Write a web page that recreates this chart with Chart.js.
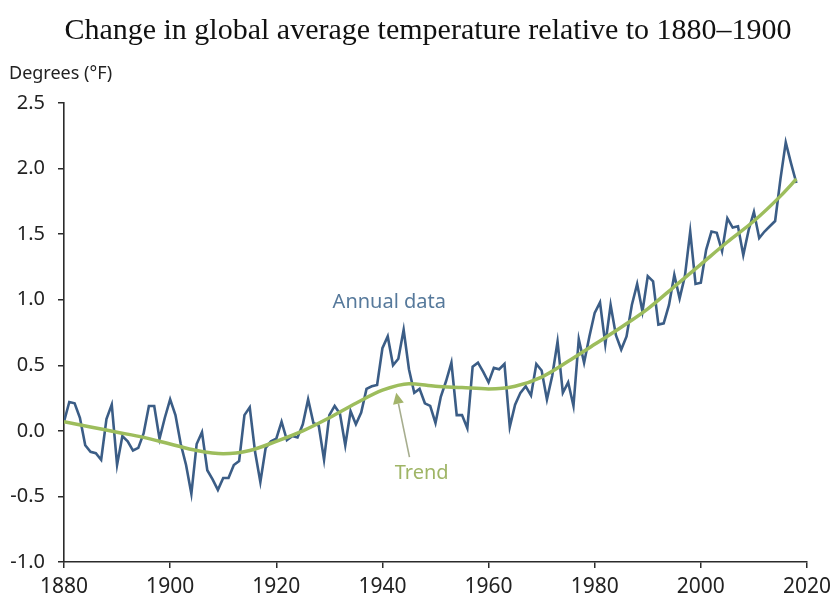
<!DOCTYPE html>
<html>
<head>
<meta charset="utf-8">
<script src="https://cdn.jsdelivr.net/npm/chart.js@4.4.1/dist/chart.umd.min.js"></script>
<style>
  html, body { margin: 0; padding: 0; background: #ffffff; }
  #wrap { width: 837px; height: 598px; }
</style>
</head>
<body>
<div id="wrap"><canvas id="c" width="837" height="598"></canvas></div>
<script>
// ---- Data ----
const startYear = 1880;
const annualValues = [
  0.07, 0.22, 0.21, 0.10, -0.11, -0.16, -0.17, -0.22, 0.09, 0.20,      // 1880-1889
  -0.26, -0.04, -0.08, -0.15, -0.13, -0.02, 0.19, 0.19, -0.06, 0.10,   // 1890-1899
  0.24, 0.12, -0.10, -0.26, -0.48, -0.10, -0.01, -0.30, -0.37, -0.45,  // 1900-1909
  -0.36, -0.36, -0.26, -0.23, 0.12, 0.18, -0.16, -0.39, -0.13, -0.08,  // 1910-1919
  -0.06, 0.07, -0.07, -0.04, -0.05, 0.05, 0.24, 0.06, 0.04, -0.22,     // 1920-1929
  0.12, 0.19, 0.13, -0.11, 0.15, 0.05, 0.14, 0.32, 0.34, 0.35,         // 1930-1939
  0.63, 0.72, 0.50, 0.55, 0.77, 0.47, 0.29, 0.32, 0.21, 0.19,          // 1940-1949
  0.06, 0.26, 0.38, 0.52, 0.12, 0.12, 0.02, 0.49, 0.52, 0.45,          // 1950-1959
  0.37, 0.48, 0.47, 0.51, 0.03, 0.20, 0.29, 0.34, 0.27, 0.51,          // 1960-1969
  0.46, 0.24, 0.42, 0.68, 0.29, 0.37, 0.19, 0.70, 0.52, 0.72,          // 1970-1979
  0.90, 0.98, 0.66, 0.96, 0.73, 0.62, 0.72, 0.96, 1.12, 0.91,          // 1980-1989
  1.18, 1.14, 0.81, 0.82, 0.96, 1.19, 1.01, 1.18, 1.52, 1.12,          // 1990-1999
  1.13, 1.38, 1.52, 1.51, 1.37, 1.62, 1.55, 1.56, 1.34, 1.53,          // 2000-2009
  1.67, 1.47, 1.52, 1.56, 1.60, 1.92, 2.20, 2.04, 1.89                 // 2010-2018
];
const trendYears  = [1880, 1885, 1890, 1895, 1900, 1905, 1910, 1915, 1920, 1925, 1930, 1935, 1940, 1945, 1950,
                     1955, 1960, 1965, 1970, 1975, 1980, 1985, 1990, 1995, 2000, 2005, 2010, 2015, 2018];
const trendValues = [0.07, 0.03, -0.01, -0.05, -0.10, -0.15, -0.175, -0.15, -0.08, 0.00, 0.10, 0.21, 0.31, 0.36, 0.34,
                     0.33, 0.32, 0.34, 0.41, 0.53, 0.66, 0.79, 0.93, 1.10, 1.27, 1.44, 1.60, 1.79, 1.92];
const xTicks = [1880, 1900, 1920, 1940, 1960, 1980, 2000, 2020];
const yTicks = [-1.0, -0.5, 0.0, 0.5, 1.0, 1.5, 2.0, 2.5];

const titleText = 'Change in global average temperature relative to 1880\u20131900';
const yUnitText = 'Degrees (\u00B0F)';
const annualLabel = 'Annual data';
const trendLabel = 'Trend';

// ---- Build library data ----
const annualPoints = annualValues.map((v, i) => ({ x: startYear + i, y: v }));
const trendPoints = trendYears.map((yr, i) => ({ x: yr, y: trendValues[i] }));

const AXIS_COLOR = '#2b2b2b';
const TICK_FONT = "'Noto Sans', 'Liberation Sans', Arial, sans-serif";

const overlay = {
  id: 'overlay',
  afterDraw(chart) {
    const ctx = chart.ctx;
    const xs = chart.scales.x, ys = chart.scales.y;
    ctx.save();
    // Title
    ctx.fillStyle = '#111111';
    ctx.font = "30px 'Liberation Serif', 'Times New Roman', serif";
    ctx.textAlign = 'center';
    ctx.textBaseline = 'alphabetic';
    ctx.fillText(titleText, 428, 39);
    // Unit label
    ctx.fillStyle = '#222222';
    ctx.font = "18px " + TICK_FONT;
    ctx.textAlign = 'left';
    ctx.fillText(yUnitText, 9, 79);
    // Annual data label
    ctx.fillStyle = '#56799b';
    ctx.font = "20px " + TICK_FONT;
    ctx.textAlign = 'center';
    ctx.textBaseline = 'middle';
    ctx.fillText(annualLabel, xs.getPixelForValue(1941.3), ys.getPixelForValue(0.98));
    // Trend label
    ctx.fillStyle = '#9fb566';
    ctx.fillText(trendLabel, xs.getPixelForValue(1947.4), ys.getPixelForValue(-0.32));
    // Arrow
    const x0 = xs.getPixelForValue(1945.1), y0 = ys.getPixelForValue(-0.20);
    const x1 = xs.getPixelForValue(1942.6), y1 = ys.getPixelForValue(0.29);
    const ang = Math.atan2(y1 - y0, x1 - x0);
    const headLen = 11, headW = 5.5;
    const bx = x1 - headLen * Math.cos(ang), by = y1 - headLen * Math.sin(ang);
    ctx.strokeStyle = '#a6ad8e';
    ctx.fillStyle = '#a3b46a';
    ctx.lineWidth = 1.6;
    ctx.beginPath();
    ctx.moveTo(x0, y0);
    ctx.lineTo(bx, by);
    ctx.stroke();
    ctx.beginPath();
    ctx.moveTo(x1, y1);
    ctx.lineTo(bx + headW * Math.sin(ang), by - headW * Math.cos(ang));
    ctx.lineTo(bx - headW * Math.sin(ang), by + headW * Math.cos(ang));
    ctx.closePath();
    ctx.fill();
    ctx.restore();
  }
};

new Chart(document.getElementById('c'), {
  type: 'line',
  data: {
    datasets: [
      {
        label: trendLabel,
        data: trendPoints,
        borderColor: '#9dbd5c',
        borderWidth: 3.5,
        pointRadius: 0,
        cubicInterpolationMode: 'monotone',
        fill: false,
        order: 1
      },
      {
        label: annualLabel,
        data: annualPoints,
        borderColor: '#3b5d86',
        borderWidth: 2.6,
        pointRadius: 0,
        tension: 0,
        fill: false,
        order: 2
      }
    ]
  },
  options: {
    responsive: false,
    animation: false,
    devicePixelRatio: 1,
    layout: { padding: { top: 103, right: 29, left: 0, bottom: 0 } },
    plugins: {
      legend: { display: false },
      title: { display: false },
      tooltip: { enabled: false }
    },
    scales: {
      x: {
        type: 'linear',
        min: xTicks[0],
        max: xTicks[xTicks.length - 1],
        afterBuildTicks(axis) { axis.ticks = xTicks.map(v => ({ value: v })); },
        afterFit(axis) { axis.height = 36; },
        grid: { drawOnChartArea: false, drawTicks: true, tickLength: 6, color: AXIS_COLOR, lineWidth: 1.5 },
        border: { display: true, color: AXIS_COLOR, width: 1.6 },
        ticks: {
          color: '#222222',
          font: { family: TICK_FONT, size: 21 },
          padding: 6,
          maxRotation: 0,
          autoSkip: false,
          callback: v => String(v)
        }
      },
      y: {
        type: 'linear',
        min: yTicks[0],
        max: yTicks[yTicks.length - 1],
        afterBuildTicks(axis) { axis.ticks = yTicks.map(v => ({ value: v })); },
        afterFit(axis) { axis.width = 64; },
        grid: { drawOnChartArea: false, drawTicks: true, tickLength: 6, color: AXIS_COLOR, lineWidth: 1.5 },
        border: { display: true, color: AXIS_COLOR, width: 1.6 },
        ticks: {
          color: '#222222',
          font: { family: TICK_FONT, size: 20 },
          padding: 13,
          autoSkip: false,
          callback: v => Number(v).toFixed(1)
        }
      }
    }
  },
  plugins: [overlay]
});
</script>
</body>
</html>
